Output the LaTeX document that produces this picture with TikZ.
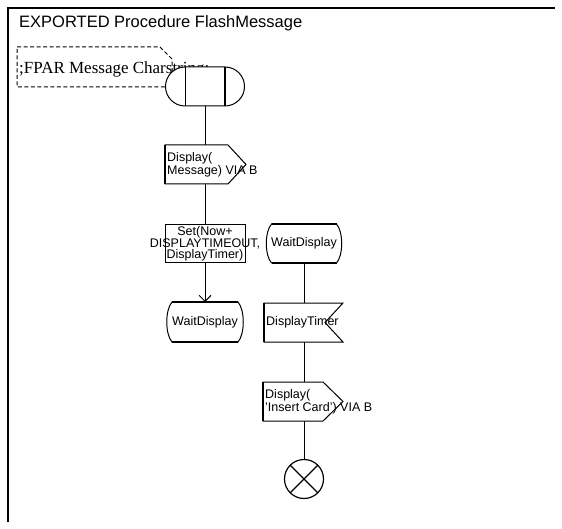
\documentclass[tikz,border=0pt]{standalone}
\usepackage{fontspec}
\setmainfont{Liberation Serif}
\setsansfont{Liberation Sans}
\usetikzlibrary{arrows.meta}
\tikzset{
  box/.style 2 args={minimum width=#1pt, minimum height=#2pt, inner sep=0pt, outer sep=0pt},
  txt/.style={font=\fontsize{12.5}{11.5}\selectfont\sffamily, inner sep=0pt},
  shapeline/.style={line width=1pt, fill=white},
  thick edge/.style={line width=2pt},
  flow/.style={line width=1pt},
  flowarrow/.style={line width=1pt, -{Straight Barb[length=6pt,width=12pt]}},
}
\begin{document}
\begin{tikzpicture}[x=1pt,y=-1pt]
\useasboundingbox (0,0) rectangle (562,529);
% frame
\coordinate (fbl) at (8,522);
\coordinate (ftl) at (8,8);
\coordinate (ftr) at (555,8);
\draw[line width=2pt] (fbl) -- (ftl) -- (ftr);
\node[anchor=base west, inner sep=0pt, font=\fontsize{16.5}{18}\selectfont\sffamily] (title) at (19,28) {EXPORTED Procedure FlashMessage};

% text symbol (dashed)
\node[box={155}{40}] (textsym) at (94.5,67) {};
\draw[line width=1pt, dash pattern=on 4pt off 2.5pt]
  (textsym.north west) -- ([xshift=-12pt]textsym.north east) -- ([yshift=-12pt]textsym.north east) -- (textsym.south east) -- (textsym.south west) -- cycle;
\node[anchor=base west, inner sep=0pt, font=\fontsize{17}{19}\selectfont\rmfamily] (fpar) at (19,74) {;FPAR Message Charstring;};

% procedure start
\node[box={79}{39}] (start) at (205,86.5) {};
\draw[shapeline, rounded corners=19.5pt] (start.north west) rectangle (start.south east);
\draw[line width=1pt] ([xshift=19.5pt]start.north west) -- ([xshift=19.5pt]start.south west);
\draw[line width=1.6pt] ([xshift=-19.5pt]start.north east) -- ([xshift=-19.5pt]start.south east);

% output 1
\node[box={81}{39}] (out1) at (205.5,164.5) {};
\draw[shapeline] (out1.north west) -- ([xshift=-18pt]out1.north east) -- (out1.east) -- ([xshift=-18pt]out1.south east) -- (out1.south west) -- cycle;
\draw[thick edge] (out1.north west) -- (out1.south west);
\node[txt, anchor=west, align=left] (out1t) at ([xshift=2pt]out1.west) {Display(\\Message) VIA B};

% task
\node[box={80}{38}, draw, line width=1pt, fill=white] (task) at (205,244) {};
\node[txt, align=center] (taskt) at (task.center) {Set(Now+\\DISPLAYTIMEOUT,\\DisplayTimer)};

% state (left)
\node[box={80}{40}] (st1) at (205,322) {};
\draw[shapeline] ([xshift=7pt]st1.north west) -- ([xshift=-7pt]st1.north east)
  .. controls ([xshift=0pt,yshift=-8pt]st1.north east) and ([xshift=0pt,yshift=8pt]st1.south east) .. ([xshift=-7pt]st1.south east)
  -- ([xshift=7pt]st1.south west)
  .. controls ([xshift=0pt,yshift=8pt]st1.south west) and ([xshift=0pt,yshift=-8pt]st1.north west) .. cycle;
\draw[thick edge] ([xshift=7pt]st1.north west) -- ([xshift=-7pt]st1.north east);
\draw[thick edge] ([xshift=7pt]st1.south west) -- ([xshift=-7pt]st1.south east);
\node[txt] (st1t) at (st1.center) {WaitDisplay};

% state (right)
\node[box={79}{39}] (st2) at (304,243.5) {};
\draw[shapeline] ([xshift=7pt]st2.north west) -- ([xshift=-7pt]st2.north east)
  .. controls ([xshift=0pt,yshift=-8pt]st2.north east) and ([xshift=0pt,yshift=8pt]st2.south east) .. ([xshift=-7pt]st2.south east)
  -- ([xshift=7pt]st2.south west)
  .. controls ([xshift=0pt,yshift=8pt]st2.south west) and ([xshift=0pt,yshift=-8pt]st2.north west) .. cycle;
\draw[thick edge] ([xshift=7pt]st2.north west) -- ([xshift=-7pt]st2.north east);
\draw[thick edge] ([xshift=7pt]st2.south west) -- ([xshift=-7pt]st2.south east);
\node[txt] (st2t) at (st2.center) {WaitDisplay};

% input
\node[box={79}{39}] (inp) at (303.5,322.5) {};
\draw[shapeline] (inp.north west) -- (inp.north east) -- ([xshift=-18pt]inp.east) -- (inp.south east) -- (inp.south west) -- cycle;
\draw[thick edge] (inp.north west) -- (inp.south west);
\node[txt, anchor=west] (inpt) at ([xshift=2pt]inp.west) {DisplayTimer};

% output 2
\node[box={80}{39}] (out2) at (303,401.5) {};
\draw[shapeline] (out2.north west) -- ([xshift=-20pt]out2.north east) -- (out2.east) -- ([xshift=-20pt]out2.south east) -- (out2.south west) -- cycle;
\draw[thick edge] (out2.north west) -- (out2.south west);
\node[txt, anchor=west, align=left] (out2t) at ([xshift=2pt]out2.west) {Display(\\'Insert Card') VIA B};

% stop
\node[circle, draw, line width=1.2pt, minimum size=39pt, inner sep=0pt, outer sep=0pt] (stop) at (304,479) {};
\draw[line width=1.2pt] (stop.north west) -- (stop.south east);
\draw[line width=1.2pt] (stop.north east) -- (stop.south west);

% connectors
\draw[flow] (start.south) -- (start.south |- out1.north);
\draw[flow] (out1.south -| task.north) -- (task.north);
\draw[flowarrow] (task.south) -- (st1.north);
\draw[flow] (st2.south) -- (st2.south |- inp.north);
\draw[flow] (inp.south -| stop.north) -- (out2.north -| stop.north);
\draw[flow] (out2.south -| stop.north) -- (stop.north);
\end{tikzpicture}
\end{document}
